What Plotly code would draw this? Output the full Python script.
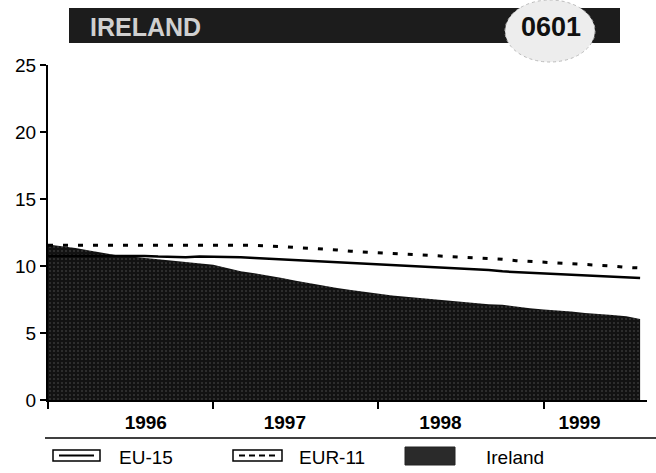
import plotly.graph_objects as go

# monthly, Jan 1996 .. Aug 1999 (index 0 = Jan 1996)
months = list(range(44))

ireland = [11.6, 11.5, 11.35, 11.15, 10.95, 10.8, 10.7, 10.6, 10.5, 10.45, 10.35, 10.2,
           10.1, 9.85, 9.6, 9.45, 9.3, 9.1, 8.9, 8.7, 8.5, 8.35, 8.2, 8.05,
           7.9, 7.8, 7.7, 7.6, 7.5, 7.4, 7.3, 7.25, 7.15, 7.1, 6.95, 6.85,
           6.75, 6.7, 6.6, 6.5, 6.45, 6.35, 6.25, 6.05]

eu15 = [10.75, 10.75, 10.8, 10.8, 10.8, 10.8, 10.75, 10.75, 10.7, 10.65, 10.65, 10.7,
        10.7, 10.7, 10.65, 10.6, 10.55, 10.5, 10.45, 10.4, 10.35, 10.3, 10.25, 10.2,
        10.1, 10.05, 10.0, 9.95, 9.9, 9.85, 9.8, 9.75, 9.7, 9.6, 9.55, 9.5,
        9.45, 9.4, 9.35, 9.3, 9.25, 9.2, 9.15, 9.1]

eur11 = [11.55, 11.55, 11.6, 11.6, 11.6, 11.6, 11.6, 11.6, 11.6, 11.6, 11.6, 11.6,
         11.6, 11.6, 11.55, 11.55, 11.5, 11.45, 11.4, 11.35, 11.3, 11.2, 11.1, 11.05,
         11.0, 10.95, 10.9, 10.85, 10.8, 10.7, 10.65, 10.6, 10.55, 10.5, 10.4, 10.35,
         10.3, 10.25, 10.2, 10.15, 10.05, 10.0, 9.9, 9.85]

year_labels = ["1996", "1997", "1998", "1999"]
year_label_pos = [7.1, 17.2, 28.5, 38.6]
year_bounds = [0, 12, 24, 36]

FONT = "Liberation Sans, Arial, sans-serif"

# plot area in pixels
L, R, T, B = 48, 647, 65, 400


def px(x, y):
    """pixel -> paper coordinates"""
    return (x - L) / (R - L), (B - y) / (B - T)


fig = go.Figure()

fig.add_trace(go.Scatter(
    x=months, y=ireland, name="Ireland", mode="lines",
    line=dict(width=0, color="#111"), fill="tozeroy",
    fillcolor="#111",
    fillpattern=dict(shape=".", bgcolor="#121212", fgcolor="#5a5a5a", size=4, solidity=0.2),
))
fig.add_trace(go.Scatter(
    x=months, y=eu15, name="EU-15", mode="lines",
    line=dict(color="black", width=2.5),
))
fig.add_trace(go.Scatter(
    x=months, y=eur11, name="EUR-11", mode="lines",
    line=dict(color="black", width=3, dash="5px,10px"),
))

shapes = []
ann = []

# title banner
x0, y0 = px(69, 8)
x1, y1 = px(620, 43)
shapes.append(dict(type="rect", xref="paper", yref="paper", x0=x0, y0=y1, x1=x1, y1=y0,
                   fillcolor="#1c1c1c", line=dict(width=0), layer="above"))
x0, y0 = px(505, 0)
x1, y1 = px(595, 62)
shapes.append(dict(type="circle", xref="paper", yref="paper", x0=x0, y0=y1, x1=x1, y1=y0,
                   fillcolor="#ededed", line=dict(width=1, color="#bbb", dash="dot"), layer="above"))
tx, ty = px(88, 27)
ann.append(dict(text="<b>IRELAND</b>", xref="paper", yref="paper", x=tx, y=ty, showarrow=False,
                font=dict(family=FONT, size=25, color="#d0d0d0"), xanchor="left", yanchor="middle"))
tx, ty = px(551, 27)
ann.append(dict(text="<b>0601</b>", xref="paper", yref="paper", x=tx, y=ty, showarrow=False,
                font=dict(family=FONT, size=27, color="#111"), xanchor="center", yanchor="middle"))

# separator line above legend
x0, y0 = px(45, 438)
x1, _ = px(656, 438)
shapes.append(dict(type="line", xref="paper", yref="paper", x0=x0, y0=y0, x1=x1, y1=y0,
                   line=dict(color="black", width=1.5)))

# legend: EU-15
x0, y0 = px(53, 450)
x1, y1 = px(100, 461)
shapes.append(dict(type="rect", xref="paper", yref="paper", x0=x0, y0=y1, x1=x1, y1=y0,
                   line=dict(color="black", width=1.5)))
a, ym = px(59, 455.5)
b, _ = px(94, 455.5)
shapes.append(dict(type="line", xref="paper", yref="paper", x0=a, y0=ym, x1=b, y1=ym,
                   line=dict(color="black", width=2)))
tx, ty = px(117, 457)
ann.append(dict(text="EU-15", xref="paper", yref="paper", x=tx, y=ty, showarrow=False,
                font=dict(family=FONT, size=19, color="black"), xanchor="left", yanchor="middle"))

# legend: EUR-11
x0, y0 = px(233, 450)
x1, y1 = px(282, 461)
shapes.append(dict(type="rect", xref="paper", yref="paper", x0=x0, y0=y1, x1=x1, y1=y0,
                   line=dict(color="black", width=1.5)))
a, ym = px(239, 455.5)
b, _ = px(276, 455.5)
shapes.append(dict(type="line", xref="paper", yref="paper", x0=a, y0=ym, x1=b, y1=ym,
                   line=dict(color="black", width=2, dash="6px,4px")))
tx, ty = px(297, 457)
ann.append(dict(text="EUR-11", xref="paper", yref="paper", x=tx, y=ty, showarrow=False,
                font=dict(family=FONT, size=19, color="black"), xanchor="left", yanchor="middle"))

# legend: Ireland
x0, y0 = px(405, 447)
x1, y1 = px(455, 465)
shapes.append(dict(type="rect", xref="paper", yref="paper", x0=x0, y0=y1, x1=x1, y1=y0,
                   fillcolor="#2a2a2a", line=dict(color="#222", width=1)))
tx, ty = px(484, 457)
ann.append(dict(text="Ireland", xref="paper", yref="paper", x=tx, y=ty, showarrow=False,
                font=dict(family=FONT, size=19, color="black"), xanchor="left", yanchor="middle"))

fig.update_layout(
    width=656, height=473,
    margin=dict(l=L, r=656 - R, t=T, b=473 - B),
    paper_bgcolor="white", plot_bgcolor="white",
    showlegend=False,
    shapes=shapes, annotations=ann,
    font=dict(family=FONT, color="black"),
    xaxis=dict(
        range=[0, 43.5], showgrid=False, zeroline=False, automargin=False,
        showline=True, linecolor="black", linewidth=2,
        tickmode="array", tickvals=year_label_pos,
        ticktext=["<b>%s</b>" % y for y in year_labels],
        ticks="", ticklabelstandoff=4,
        tickfont=dict(size=19, family=FONT, color="black"),
        minor=dict(tickmode="array", tickvals=year_bounds, ticks="outside",
                   ticklen=7, tickwidth=2, tickcolor="black", showgrid=False),
    ),
    yaxis=dict(
        range=[0, 25], showgrid=False, zeroline=False, automargin=False,
        showline=True, linecolor="black", linewidth=2,
        tickmode="array", tickvals=[0, 5, 10, 15, 20, 25],
        ticks="outside", ticklen=6, tickwidth=2, tickcolor="black",
        tickfont=dict(size=19, family=FONT, color="black"),
    ),
)

# the page's default body margin would push the figure 8px off
fig.write_html("out.html", config={"displayModeBar": False},
               post_script="document.body.style.margin='0';")
